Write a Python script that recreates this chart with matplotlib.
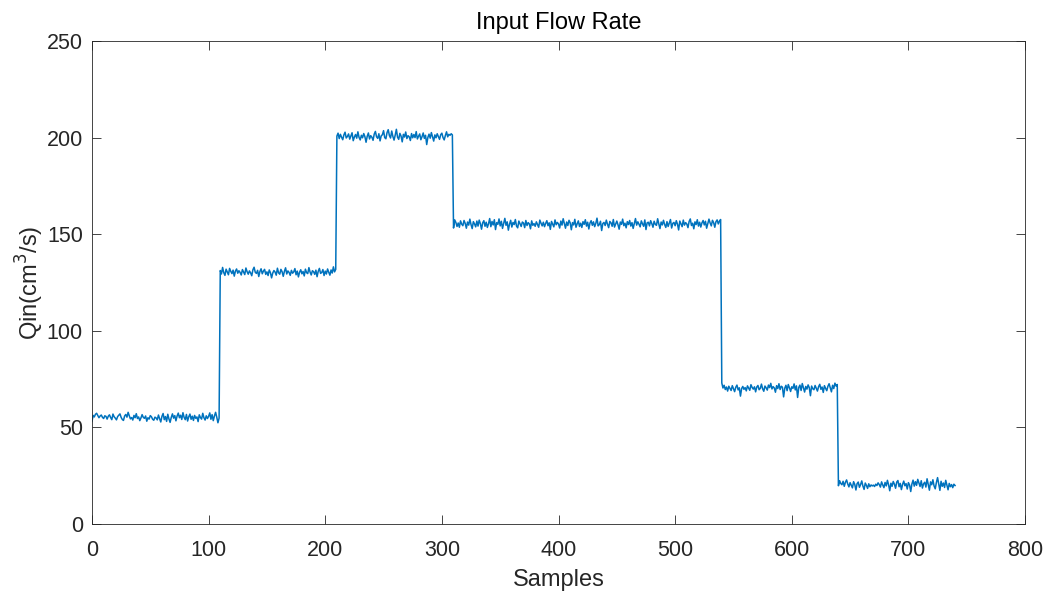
import numpy as np
import matplotlib
matplotlib.use("Agg")
import matplotlib.pyplot as plt

# flow rate, one list per step level
seg1 = [53.1, 56.2, 55.4, 56.8, 57.3, 56.1, 55.0, 55.9, 56.4, 55.2,
        54.6, 56.0, 55.7, 54.3, 55.8, 56.5, 55.1, 54.0, 56.9, 55.5,
        54.8, 53.9, 55.6, 56.3, 57.0, 55.2, 54.1, 53.6, 55.9, 56.7,
        55.3, 57.8, 56.0, 54.4, 55.1, 53.8, 56.2, 55.0, 57.1, 54.6,
        55.4, 53.5, 54.9, 56.6, 55.2, 54.7, 55.9, 53.2, 55.0, 54.3,
        56.1, 55.5, 54.2, 53.7, 55.3, 54.9, 53.9, 56.4, 54.5, 52.8,
        55.7, 57.2, 54.0, 55.6, 53.1, 56.8, 54.4, 52.6, 55.2, 57.0,
        54.8, 56.1, 53.4, 55.9, 57.4, 55.0, 56.3, 54.1, 57.6, 55.2,
        54.0, 56.7, 53.3, 55.5, 56.9, 54.2, 55.8, 53.6, 56.2, 54.7,
        55.4, 53.0, 56.5, 55.1, 54.3, 57.3, 55.0, 53.8, 56.0, 54.6,
        55.7, 57.5, 54.2, 56.6, 53.5, 55.9, 57.8, 55.3, 52.4, 54.8]
seg2 = [131.2, 129.4, 132.8, 130.1, 128.7, 131.9, 130.5, 129.0, 132.3, 130.8,
        129.6, 131.4, 128.3, 130.9, 132.0, 129.8, 131.1, 130.2, 128.9, 131.7,
        130.4, 129.1, 132.5, 130.6, 129.3, 131.0, 130.0, 128.5, 131.6, 132.9,
        130.3, 129.7, 131.3, 128.1, 130.7, 132.1, 129.5, 130.9, 131.8, 129.2,
        130.5, 128.6, 131.5, 130.1, 127.4, 129.9, 131.2, 130.4, 128.8, 132.4,
        130.0, 129.3, 131.8, 130.6, 128.2, 130.8, 132.6, 129.4, 131.0, 130.2,
        128.7, 131.3, 129.8, 130.5, 132.2, 129.0, 130.9, 127.9, 130.3, 131.6,
        129.5, 130.7, 128.4, 131.9, 130.1, 129.6, 132.7, 130.4, 128.9, 131.1,
        130.6, 129.2, 131.4, 128.0, 130.8, 132.3, 129.7, 130.2, 131.7, 128.6,
        130.9, 129.4, 132.0, 130.3, 128.8, 131.5, 129.9, 133.1, 130.5, 131.8]
seg3 = [200.8, 202.3, 199.5, 201.7, 200.2, 198.9, 201.4, 202.8, 199.8, 200.6,
        201.9, 199.2, 200.9, 202.5, 198.4, 200.3, 201.6, 199.7, 203.0, 200.1,
        198.8, 201.2, 199.9, 202.1, 200.5, 197.6, 200.7, 202.4, 199.3, 201.0,
        200.2, 198.6, 201.8, 203.2, 200.4, 199.6, 202.0, 198.3, 200.9, 201.5,
        203.6, 200.0, 199.4, 202.6, 204.1, 201.1, 199.8, 203.4, 200.6, 198.7,
        201.3, 204.3, 200.2, 199.1, 202.2, 200.8, 197.8, 201.7, 200.3, 202.9,
        199.5, 201.0, 200.4, 198.5, 202.1, 199.9, 201.6, 200.0, 203.1, 199.3,
        200.7, 201.9, 198.9, 200.5, 202.4, 199.6, 201.2, 196.4, 200.1, 201.8,
        199.7, 202.6, 200.3, 198.2, 201.4, 199.9, 202.0, 200.6, 199.1, 201.5,
        202.3, 200.0, 198.8, 201.1, 203.0, 200.4, 201.7, 201.2, 202.0, 201.4]
seg4 = [153.2, 157.4, 156.1, 154.0, 155.8, 153.6, 156.9, 155.2, 154.4, 157.1,
        155.6, 153.1, 156.3, 154.7, 157.8, 155.0, 152.9, 156.5, 155.3, 153.8,
        156.8, 154.2, 157.3, 155.5, 152.6, 155.9, 157.0, 154.1, 156.2, 153.5,
        155.4, 158.1, 153.9, 156.6, 154.8, 157.5, 152.4, 156.0, 155.1, 157.9,
        154.3, 156.7, 153.0, 155.7, 158.2, 154.6, 156.4, 152.1, 155.2, 157.2,
        153.7, 156.1, 155.0, 157.6, 154.2, 153.3, 156.8, 155.4, 154.0, 156.3,
        155.8, 153.4, 157.1, 154.5, 156.0, 155.3, 152.8, 156.9, 154.6, 155.5,
        154.1, 156.4, 155.0, 153.6, 157.3, 155.7, 154.3, 156.2, 153.9, 155.6,
        157.0, 154.4, 155.9, 152.5, 156.6, 155.2, 153.8, 157.4, 154.9, 156.1,
        155.3, 153.2, 156.8, 154.7, 158.0, 155.5, 153.1, 156.3, 154.5, 157.2,
        155.9, 152.3, 156.0, 154.8, 157.7, 153.6, 155.4, 156.9, 154.0, 155.7,
        153.5, 156.5, 155.1, 157.5, 154.2, 156.2, 152.7, 155.8, 157.0, 154.6,
        156.4, 153.9, 155.6, 158.3, 154.3, 155.0, 156.7, 151.9, 155.5, 156.1,
        154.5, 157.3, 155.2, 153.4, 156.6, 155.9, 154.1, 157.6, 153.7, 155.3,
        156.8, 154.9, 152.6, 156.3, 155.1, 157.8, 154.4, 155.7, 153.3, 156.5,
        155.0, 157.1, 154.2, 156.0, 153.0, 155.6, 158.1, 154.7, 156.4, 155.2,
        153.8, 156.9, 155.4, 154.1, 157.4, 152.4, 155.9, 156.2, 154.3, 157.0,
        155.5, 153.6, 156.7, 155.1, 154.6, 158.0, 155.3, 152.9, 156.3, 154.8,
        157.2, 155.0, 153.5, 156.5, 154.0, 155.8, 157.6, 153.2, 155.6, 156.1,
        154.4, 157.0, 155.2, 152.2, 156.8, 155.4, 153.9, 157.3, 154.7, 156.0,
        155.3, 153.4, 156.6, 157.9, 154.5, 155.7, 152.8, 156.4, 155.0, 157.5,
        154.2, 156.2, 153.7, 155.9, 157.1, 154.8, 156.7, 153.1, 155.5, 157.8,
        155.8, 154.3, 157.2, 156.0, 153.6, 156.5, 157.4, 155.3, 156.8, 157.6]
seg5 = [73.0, 70.4, 71.8, 69.6, 70.9, 68.8, 71.3, 70.2, 69.1, 71.6,
        70.0, 68.5, 70.8, 71.9, 69.4, 70.5, 66.2, 70.1, 71.2, 69.7,
        70.6, 68.9, 71.5, 70.3, 69.2, 72.1, 70.7, 69.8, 71.0, 68.4,
        70.9, 71.7, 69.5, 70.2, 72.4, 70.0, 68.7, 71.4, 70.5, 69.3,
        71.9, 70.6, 72.8, 69.9, 71.1, 70.4, 68.2, 71.6, 70.1, 72.6,
        69.6, 71.3, 70.8, 65.8, 70.3, 71.8, 69.0, 72.2, 70.5, 68.6,
        71.0, 70.2, 72.5, 69.4, 71.5, 65.5, 70.7, 71.9, 69.1, 72.7,
        70.4, 68.3, 71.2, 69.8, 72.0, 70.6, 66.4, 71.4, 70.0, 69.5,
        71.7, 70.3, 68.8, 71.1, 72.3, 69.7, 70.9, 68.1, 71.6, 70.2,
        69.0, 71.3, 72.6, 70.5, 68.4, 71.8, 70.1, 72.9, 71.4, 72.2]
seg6 = [19.8, 22.4, 21.0, 20.3, 22.1, 19.5, 21.6, 22.8, 20.7, 19.2,
        21.4, 20.1, 18.7, 21.9, 20.5, 17.6, 20.9, 21.7, 19.0, 20.4,
        22.3, 19.6, 17.9, 21.2, 20.0, 18.4, 20.8, 19.3, 20.2, 19.7,
        20.1, 19.4, 20.6, 19.9, 21.3, 20.4, 19.1, 21.8, 20.2, 18.8,
        21.5, 19.7, 22.6, 20.3, 17.2, 21.1, 19.5, 22.0, 20.6, 18.5,
        21.7, 22.5, 19.3, 21.0, 17.8, 20.5, 22.2, 19.8, 20.9, 18.1,
        21.4, 20.2, 16.8, 20.7, 22.7, 19.6, 21.9, 20.0, 23.1, 21.3,
        19.4, 22.4, 18.6, 20.8, 21.6, 19.1, 23.4, 20.5, 17.5, 21.8,
        20.3, 22.9, 19.7, 18.2, 21.5, 24.0, 20.6, 17.4, 22.1, 19.5,
        21.2, 18.9, 22.6, 20.1, 17.7, 21.0, 19.3, 20.4, 18.8, 20.6,
        19.9]

qin = np.array(seg1 + seg2 + seg3 + seg4 + seg5 + seg6)
samples = np.arange(len(qin))

x_ticks = [0, 100, 200, 300, 400, 500, 600, 700, 800]
y_ticks = [0, 50, 100, 150, 200, 250]

plt.rcParams['font.family'] = ['Liberation Sans', 'DejaVu Sans']

fig = plt.figure(figsize=(10.51, 5.97), dpi=100)
ax = fig.add_axes([0.0875, 0.1223, 0.8878, 0.8090])
ax.plot(samples, qin, color='#0072BD', linewidth=1.1)

ax.set_xlim(0, 800)
ax.set_ylim(0, 250)
ax.set_xticks(x_ticks)
ax.set_yticks(y_ticks)

axis_col = '#262626'
for s in ax.spines.values():
    s.set_color(axis_col)
    s.set_linewidth(0.6)
ax.tick_params(direction='in', length=6.5, width=0.6, colors=axis_col,
               labelsize=15.5, top=True, right=True)
ax.tick_params(axis='x', pad=11.5)
ax.tick_params(axis='y', pad=6.5)

ax.set_title('Input Flow Rate', fontsize=17, color='black', pad=9)
ax.set_xlabel('Samples', fontsize=17, color=axis_col, labelpad=6)
ax.set_ylabel('Qin(cm$^3$/s)', fontsize=17, color=axis_col, labelpad=0.5)

plt.savefig('out.png', dpi=100)
